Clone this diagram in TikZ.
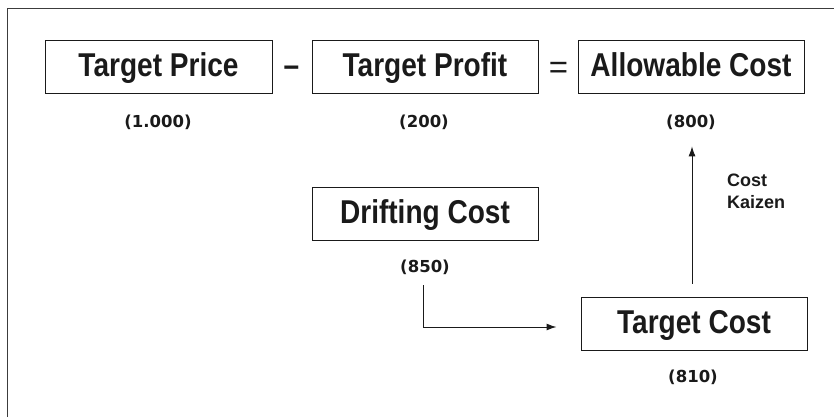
\documentclass[tikz,border=0pt]{standalone}
\usepackage{fontspec}
\setmainfont{Liberation Sans}
\newfontfamily\boxfont{Liberation Sans}[FakeStretch=0.85]
\newfontfamily\numfont{DejaVu Sans}
\newfontfamily\plainfont{Liberation Sans}
\usetikzlibrary{arrows.meta}
\definecolor{ink}{HTML}{1A1A1A}
\begin{document}
\begin{tikzpicture}[x=1pt,y=-1pt,
  box/.style={draw=ink,line width=1pt,inner sep=0pt,minimum width=226pt,minimum height=53pt,
    text height=26pt,text depth=7pt,
    text=ink,font=\boxfont\bfseries\fontsize{33}{36}\selectfont},
  val/.style={inner sep=0pt,anchor=base,text=ink,font=\numfont\bfseries\fontsize{16.5}{18}\selectfont},
  op/.style={inner sep=0pt,anchor=base,text=ink},
  arr/.style={draw=ink,line width=1pt,-{Latex[length=10pt,width=7pt]}},
  frame/.style={draw=ink!85,line width=1pt}]
\useasboundingbox (0,0) rectangle (834,417);
% outer frame (open at right and bottom)
\coordinate (fl) at (7,417);
\coordinate (fc) at (7,9);
\coordinate (fr) at (834,9);
\draw[frame] (fl) -- (fc) -- (fr);
% top row
\node[box,minimum width=227pt] (tp) at (158.5,67.5) {Target Price};
\node[op,font=\boxfont\bfseries\fontsize{33}{36}\selectfont] (minus) at (291.5,77) {–};
\node[box] (tpr) at (425,67.5) {Target Profit};
\node[op,font=\plainfont\fontsize{33}{36}\selectfont] (eq) at (558.5,79) {=};
\node[box] (ac) at (691,67.5) {Allowable Cost};
\node[val] (l1000) at (158,127) {(1.000)};
\node[val] (l200) at (424,127) {(200)};
\node[val] (l800) at (691,127) {(800)};
% lower boxes
\node[box] (dc) at (425,213.5) {Drifting Cost};
\node[val] (l850) at (425,272) {(850)};
\node[box] (tc) at (694,323.5) {Target Cost};
\node[val] (l810) at (693,382) {(810)};
\node[inner sep=0pt,anchor=base west,align=left,text=ink,
  font=\plainfont\bfseries\fontsize{18}{22}\selectfont] (ck) at (727,208) {Cost\\Kaizen};
% connectors
\draw[arr] ([xshift=-2pt,yshift=13pt]tc.north) -- ([xshift=-2pt,yshift=-17pt]l800.south -| tc.north);
\draw[arr] ([xshift=-2pt,yshift=-11pt]l850.south) |- ([xshift=-24pt,yshift=-3.5pt]tc.west);
\end{tikzpicture}
\end{document}
